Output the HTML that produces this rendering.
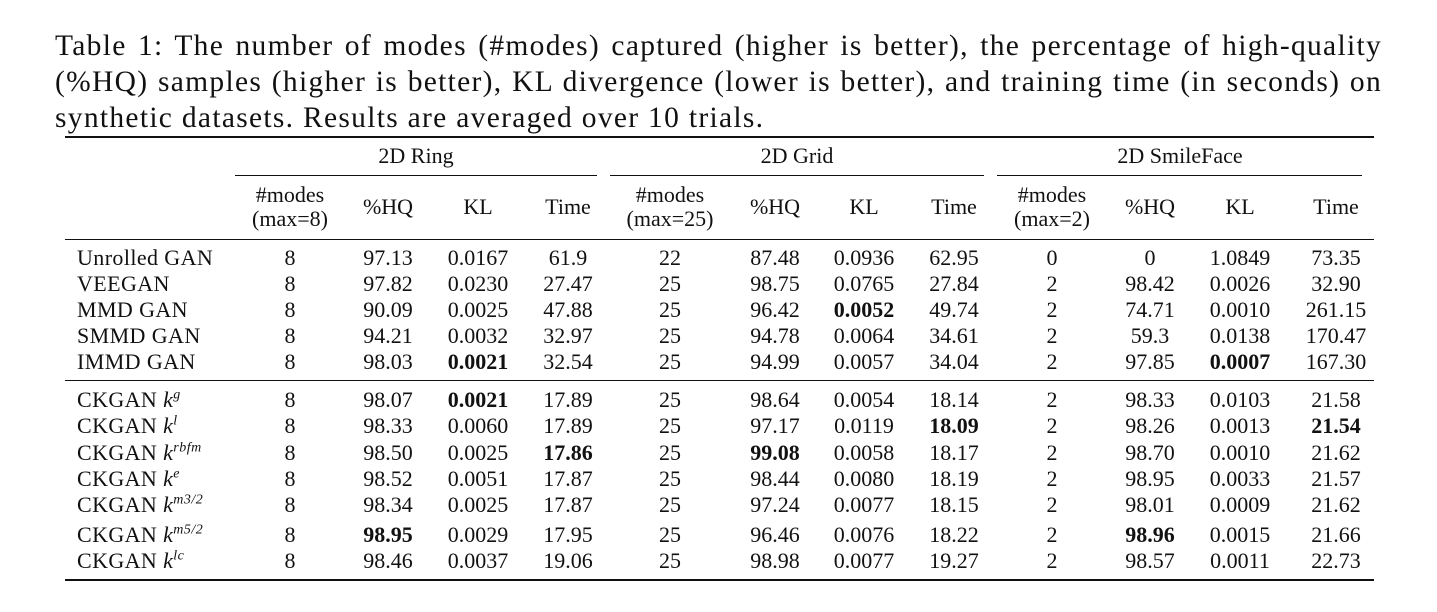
<!DOCTYPE html>
<html><head><meta charset="utf-8"><style>
body{margin:0;width:1437px;height:612px;background:#fff;position:relative;overflow:hidden;font-family:"Liberation Serif",serif;color:#111}
.cap{position:absolute;left:55px;font-size:29.5px;white-space:nowrap;letter-spacing:1.3px;line-height:36px}
.j{width:1327px;text-align:justify;text-align-last:justify;white-space:normal}
.t{position:absolute;font-size:22px;white-space:nowrap;transform:translate(-50%,-50%);line-height:1.1;text-align:center}
.l{position:absolute;font-size:22px;white-space:nowrap;transform:translateY(-50%);left:77px;letter-spacing:0.4px}
.r{position:absolute;background:#111}
b{font-weight:bold}
sup{font-style:italic;font-size:14px;letter-spacing:0.5px}
</style></head><body>
<div class="cap j" style="top:28px">Table 1: The number of modes (#modes) captured (higher is better), the percentage of high-quality</div>
<div class="cap j" style="top:64px">(%HQ) samples (higher is better), KL divergence (lower is better), and training time (in seconds) on</div>
<div class="cap" style="top:100px">synthetic datasets. Results are averaged over 10 trials.</div>
<div class="r" style="left:65px;width:1309px;top:136px;height:2px"></div>
<div class="r" style="left:235px;width:362px;top:175px;height:1px"></div>
<div class="r" style="left:610px;width:374px;top:175px;height:1px"></div>
<div class="r" style="left:997px;width:365px;top:175px;height:1px"></div>
<div class="r" style="left:65px;width:1309px;top:239px;height:1px"></div>
<div class="r" style="left:65px;width:1309px;top:380px;height:1px"></div>
<div class="r" style="left:65px;width:1309px;top:579px;height:2px"></div>
<div id="tbl"></div>
<script>
const cols=[290,388,478,568,670,775,864,954,1052,1150,1240,1336];
const groups=[["2D Ring",416],["2D Grid",797],["2D SmileFace",1180]];
const subs=["#modes<br>(max=8)","%HQ","KL","Time","#modes<br>(max=25)","%HQ","KL","Time","#modes<br>(max=2)","%HQ","KL","Time"];
const names=["Unrolled GAN","VEEGAN","MMD GAN","SMMD GAN","IMMD GAN","CKGAN <i>k</i><sup>g</sup>","CKGAN <i>k</i><sup>l</sup>","CKGAN <i>k</i><sup>rbfm</sup>","CKGAN <i>k</i><sup>e</sup>","CKGAN <i>k</i><sup>m3/2</sup>","CKGAN <i>k</i><sup>m5/2</sup>","CKGAN <i>k</i><sup>lc</sup>"];
const rows=[
["8","97.13","0.0167","61.9","22","87.48","0.0936","62.95","0","0","1.0849","73.35"],
["8","97.82","0.0230","27.47","25","98.75","0.0765","27.84","2","98.42","0.0026","32.90"],
["8","90.09","0.0025","47.88","25","96.42","*0.0052","49.74","2","74.71","0.0010","261.15"],
["8","94.21","0.0032","32.97","25","94.78","0.0064","34.61","2","59.3","0.0138","170.47"],
["8","98.03","*0.0021","32.54","25","94.99","0.0057","34.04","2","97.85","*0.0007","167.30"],
["8","98.07","*0.0021","17.89","25","98.64","0.0054","18.14","2","98.33","0.0103","21.58"],
["8","98.33","0.0060","17.89","25","97.17","0.0119","*18.09","2","98.26","0.0013","*21.54"],
["8","98.50","0.0025","*17.86","25","*99.08","0.0058","18.17","2","98.70","0.0010","21.62"],
["8","98.52","0.0051","17.87","25","98.44","0.0080","18.19","2","98.95","0.0033","21.57"],
["8","98.34","0.0025","17.87","25","97.24","0.0077","18.15","2","98.01","0.0009","21.62"],
["8","*98.95","0.0029","17.95","25","96.46","0.0076","18.22","2","*98.96","0.0015","21.66"],
["8","98.46","0.0037","19.06","25","98.98","0.0077","19.27","2","98.57","0.0011","22.73"]];
const rowY=[258,284,310,336,362,400,426,453,479,505,535,561];
const T=document.getElementById('tbl');
function add(cls,html,x,y,name){const d=document.createElement('div');d.className=cls;d.innerHTML=html;if(x!==null)d.style.left=x+'px';d.style.top=y+'px';


T.appendChild(d);}
groups.forEach((g,i)=>add('t',g[0],g[1],156,'group-header-'+i));
subs.forEach((s,i)=>add('t',s,cols[i],207,'column-header-'+i));
names.forEach((n,i)=>add('l',n,null,rowY[i],'row-label-'+i));
rows.forEach((r,i)=>r.forEach((v,j)=>{const b=v[0]==='*';add('t',b?'<b>'+v.slice(1)+'</b>':v,cols[j],rowY[i],'cell-'+i+'-'+j);}));
</script>
</body></html>
